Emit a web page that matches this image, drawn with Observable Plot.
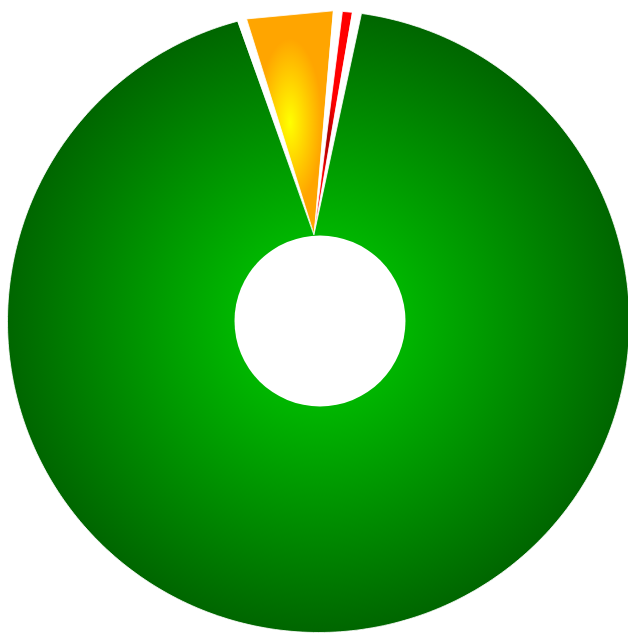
<!DOCTYPE html>
<html>
<head>
<meta charset="utf-8">
<script src="https://cdn.jsdelivr.net/npm/d3@7"></script>
<script src="https://cdn.jsdelivr.net/npm/@observablehq/plot@0.6"></script>
<style>
  html, body { margin: 0; padding: 0; background: #fff; }
  svg { display: block; }
</style>
</head>
<body>
<div id="chart"></div>
<script>
// ---- data ----
const categories = ["orange", "red", "green"];
const values = [6.3, 0.7, 93.0];
const innerColors = ["#ffff00", "#a00000", "#00d400"];
const outerColors = ["#ffa500", "#ff0000", "#006600"];

// ---- layout ----
const W = 628, H = 633;
const CX = 318, CY = 321, R = 311;           // outer circle (px)
const apex = [(313.5 - CX) / R, (CY - 234) / R]; // common apex of the wedges (units)
const hole = {x: 1.5 / R, y: 0.5 / R, r: 85.5};
const deg = Math.PI / 180;

const pie = d3.pie().sort(null)
  .startAngle(-18.57 * deg)
  .endAngle(-18.57 * deg + 2 * Math.PI)
  .padAngle(2.4 * deg);
const arcs = pie(values);

function rayHit(theta) {
  const dx = Math.sin(theta), dy = Math.cos(theta);
  const ox = apex[0], oy = apex[1];
  const b = ox * dx + oy * dy;
  const c = ox * ox + oy * oy - 1;
  const t = -b + Math.sqrt(b * b - c);
  return [ox + t * dx, oy + t * dy];
}

const slices = arcs.map((a, i) => {
  const a0 = a.startAngle + a.padAngle / 2;
  const a1 = a.endAngle - a.padAngle / 2;
  const p0 = rayHit(a0), p1 = rayHit(a1);
  const pts = [apex, p0];
  if (a1 - a0 > 30 * deg) {
    let f0 = Math.atan2(p0[0], p0[1]);
    let f1 = Math.atan2(p1[0], p1[1]);
    while (f1 <= f0) f1 += 2 * Math.PI;
    for (let f = f0 + deg; f < f1; f += deg) pts.push([Math.sin(f), Math.cos(f)]);
  }
  pts.push(p1);
  return pts.map(([x, y]) => ({slice: categories[i], x, y}));
});

const plot = Plot.plot({
  width: W,
  height: H,
  margin: 0,
  x: {domain: [-CX / R, (W - CX) / R], axis: null},
  y: {domain: [-(H - CY) / R, CY / R], axis: null},
  marks: [
    ...slices.map((rows, i) => Plot.line(rows, {
      x: "x", y: "y", curve: "linear-closed",
      fill: `url(#grad-${i})`, stroke: "white", strokeWidth: 0.8
    })),
    Plot.dot([hole], {x: "x", y: "y", r: hole.r, fill: "white", stroke: "none"})
  ]
});

// gradients
const defs = d3.select(plot).insert("defs", ":first-child");
const sx = plot.scale("x"), sy = plot.scale("y");
categories.forEach((c, i) => {
  const g = defs.append("radialGradient").attr("id", `grad-${i}`);
  if (c === "green") {
    g.attr("gradientUnits", "userSpaceOnUse")
      .attr("cx", sx.apply(0)).attr("cy", sy.apply(0))
      .attr("r", sx.apply(1) - sx.apply(0));
    g.append("stop").attr("offset", "0%").attr("stop-color", innerColors[i]);
    g.append("stop").attr("offset", "100%").attr("stop-color", outerColors[i]);
  } else if (c === "orange") {
    g.attr("cx", "50%").attr("cy", "50%").attr("r", "50%");
    g.append("stop").attr("offset", "0%").attr("stop-color", innerColors[i]);
    g.append("stop").attr("offset", "75%").attr("stop-color", outerColors[i]);
  } else {
    g.attr("cx", "35%").attr("cy", "55%").attr("r", "50%");
    g.append("stop").attr("offset", "0%").attr("stop-color", innerColors[i]);
    g.append("stop").attr("offset", "45%").attr("stop-color", outerColors[i]);
  }
});

document.getElementById("chart").appendChild(plot);
</script>
</body>
</html>
